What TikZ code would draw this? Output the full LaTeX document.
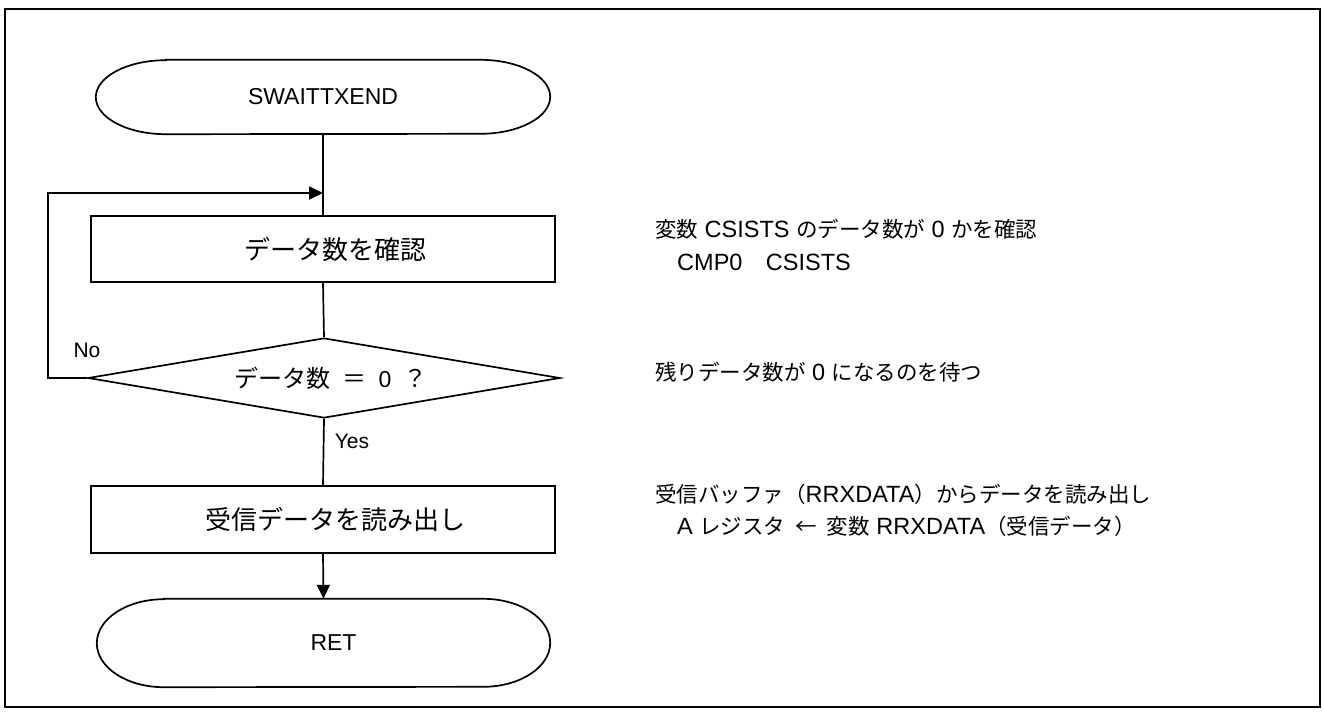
\documentclass[tikz,border=0pt]{standalone}
\usepackage{fontspec}
\setmainfont{Liberation Sans}
\newfontfamily\jp{Noto Sans CJK JP}
\usetikzlibrary{arrows.meta,shapes.geometric}
\newcommand\termpath[3]{\draw[flow] ([xshift=#2pt]#1.north west) -- ([xshift=-#2pt]#1.north east) arc[start angle=90,end angle=-90,x radius=#2pt,y radius=#3pt] -- ([xshift=#2pt]#1.south west) arc[start angle=270,end angle=90,x radius=#2pt,y radius=#3pt] -- cycle;}
\newcommand\nj[1]{{\jp\fontsize{21.5}{28}\selectfont #1}}
\newcommand\bjp[1]{{\jp\fontsize{26}{28}\selectfont #1}}
\newcommand\djp[1]{{\jp\fontsize{24}{28}\selectfont #1}}
\tikzset{
  flow/.style={line width=1.7pt},
  arr/.style={flow,-{Triangle[length=14pt,width=13pt]}},
  nodetext/.style={font=\fontsize{23}{27}\selectfont},
  procbox/.style={nodetext,draw,flow,rectangle,minimum width=464pt,minimum height=66pt,inner sep=0pt},
  termbox/.style={nodetext,rectangle,inner sep=0pt},
  decbox/.style={nodetext,draw,flow,diamond,aspect=5.9,minimum width=472pt,minimum height=80pt,inner sep=0pt},
  lbl/.style={font=\fontsize{21}{25}\selectfont,inner sep=0pt},
  note/.style={font=\fontsize{23.5}{28}\selectfont,anchor=west,inner sep=0pt},
}
\begin{document}
\begin{tikzpicture}[x=1pt,y=-1pt]
\useasboundingbox (0,0) rectangle (1324,716);
\draw[line width=2.4pt] (5,9) rectangle (1320,707);

\node[termbox,minimum width=454pt,minimum height=74pt] (start) at (323,97) {SWAITTXEND};
\termpath{start}{70}{37}
\node[procbox] (box1) at (323,249) {\hspace*{24pt}\bjp{データ数を確認}};
\node[decbox] (dia) at (324,378) {\hspace*{14pt}\djp{データ数}\hspace{12pt}\djp{＝}\hspace{12pt}0\hspace{12pt}\djp{？}};
\node[procbox,minimum height=67pt] (box2) at (323,519.5) {\hspace*{24pt}\bjp{受信データを読み出し}};
\node[termbox,minimum width=453pt,minimum height=88pt] (ret) at (323.5,643) {\hspace*{20pt}RET};
\termpath{ret}{67}{44}

\coordinate (m) at (323,193);
\draw[flow] (start.south) -- (box1.north);
\draw[arr] (dia.west) -- ++(-39,0) |- (m);
\draw[flow] (box1.south) -- (dia.north);
\draw[flow] (dia.south) -- (box2.north);
\draw[arr] (box2.south) -- (ret.north);

\node[lbl] (no) at (87,350) {No};
\node[lbl] (yes) at (352,441) {Yes};

\node[note] (n1) at (655,229) {\nj{変数} CSISTS \nj{のデータ数が} 0 \nj{かを確認}};
\node[note] (n2) at (677,262) {CMP0\hspace{1em}CSISTS};
\node[note] (n3) at (655,372) {\nj{残りデータ数が} 0 \nj{になるのを待つ}};
\node[note] (n4) at (655,494) {\nj{受信バッファ（}RRXDATA\nj{）からデータを読み出し}};
\node[note] (n5) at (677,526) {A \nj{レジスタ}\hspace{10pt}\nj{←}\hspace{10pt}\nj{変数} RRXDATA\nj{（受信データ）}};
\end{tikzpicture}
\end{document}
